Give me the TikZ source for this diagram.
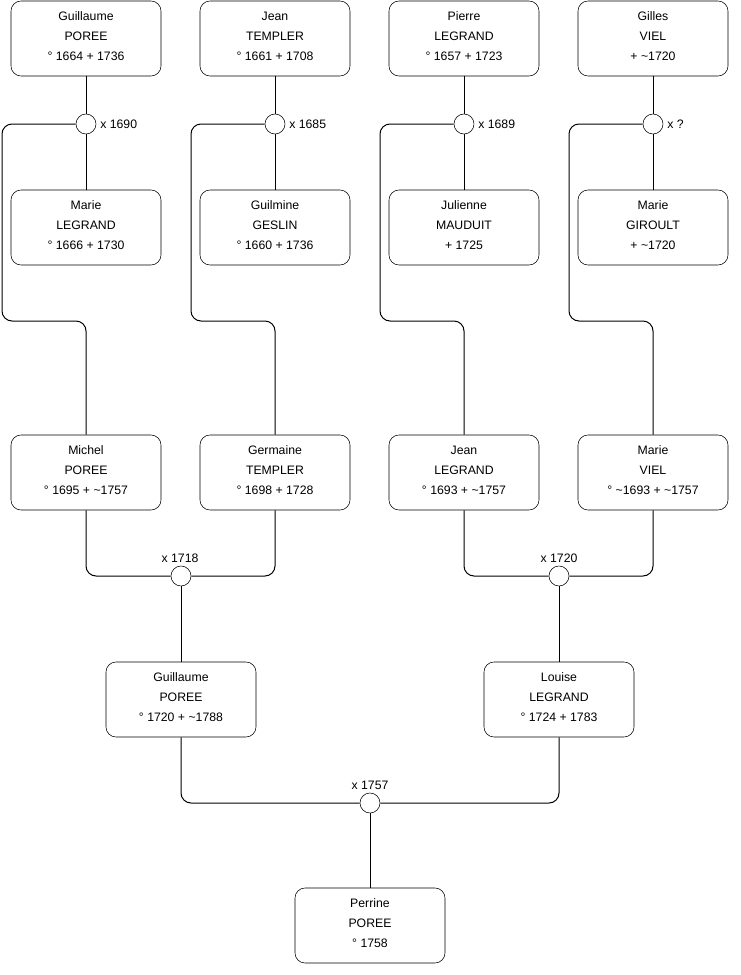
\documentclass[tikz,border=0pt]{standalone}
\usepackage{fontspec}
\setmainfont{Liberation Sans}
\newcommand{\tld}{\textasciitilde}
\begin{document}
\begin{tikzpicture}[x=0.75pt,y=-0.75pt,
  person/.style={draw, rounded corners=7.5pt, minimum width=112.5pt, minimum height=56.25pt, align=center, font=\fontsize{9.2}{15}\selectfont, inner sep=0pt, text depth=3pt},
  union/.style={draw, circle, minimum size=15pt, inner sep=0pt, fill=white},
  lbl/.style={font=\fontsize{9.2}{11}\selectfont, inner sep=0pt},
  link/.style={draw, line width=0.75pt, rounded corners=7.5pt}]
\useasboundingbox (0,0) rectangle (740,975);
% top row
\node[person] (g1) at (86,38.5) {Guillaume\\POREE\\° 1664 + 1736};
\node[person] (g2) at (275,38.5) {Jean\\TEMPLER\\° 1661 + 1708};
\node[person] (g3) at (464,38.5) {Pierre\\LEGRAND\\° 1657 + 1723};
\node[person] (g4) at (653,38.5) {Gilles\\VIEL\\+ \tld1720};
% second row
\node[person] (m1) at (86,227.5) {Marie\\LEGRAND\\° 1666 + 1730};
\node[person] (m2) at (275,227.5) {Guilmine\\GESLIN\\° 1660 + 1736};
\node[person] (m3) at (464,227.5) {Julienne\\MAUDUIT\\+ 1725};
\node[person] (m4) at (653,227.5) {Marie\\GIROULT\\+ \tld1720};
% unions
\node[union] (u1) at (86,124) {};
\node[union] (u2) at (275,124) {};
\node[union] (u3) at (464,124) {};
\node[union] (u4) at (653,124) {};
\node[lbl, anchor=west] at (100,124) {x 1690};
\node[lbl, anchor=west] at (289,124) {x 1685};
\node[lbl, anchor=west] at (478,124) {x 1689};
\node[lbl, anchor=west] at (667,124) {x ?};
% third row
\node[person] (c1) at (86,472.5) {Michel\\POREE\\° 1695 + \tld1757};
\node[person] (c2) at (275,472.5) {Germaine\\TEMPLER\\° 1698 + 1728};
\node[person] (c3) at (464,472.5) {Jean\\LEGRAND\\° 1693 + \tld1757};
\node[person] (c4) at (653,472.5) {Marie\\VIEL\\° \tld1693 + \tld1757};
% unions 2
\node[union] (v1) at (181,576) {};
\node[union] (v2) at (559,576) {};
\node[lbl] at (180,558) {x 1718};
\node[lbl] at (559,558) {x 1720};
% fourth row
\node[person] (d1) at (181,699.5) {Guillaume\\POREE\\° 1720 + \tld1788};
\node[person] (d2) at (559,699.5) {Louise\\LEGRAND\\° 1724 + 1783};
% final union
\node[union] (w) at (370,803) {};
\node[lbl] at (370,785) {x 1757};
\node[person] (p) at (370,925.5) {Perrine\\POREE\\° 1758};
% connectors top
\foreach \i in {1,2,3,4}{
  \draw[line width=0.75pt] (g\i.south) -- (u\i.north);
  \draw[line width=0.75pt] (u\i.south) -- (m\i.north);
}
\path[link] (u1.west) -- (2,124) -- (2,321) -- (86,321) -- (c1.north);
\path[link] (u2.west) -- (191,124) -- (191,321) -- (275,321) -- (c2.north);
\path[link] (u3.west) -- (380,124) -- (380,321) -- (464,321) -- (c3.north);
\path[link] (u4.west) -- (569,124) -- (569,321) -- (653,321) -- (c4.north);
% second generation
\path[link] (c1.south) -- (86,576) -- (v1.west);
\path[link] (c2.south) -- (275,576) -- (v1.east);
\path[link] (c3.south) -- (464,576) -- (v2.west);
\path[link] (c4.south) -- (653,576) -- (v2.east);
\draw[line width=0.75pt] (v1.south) -- (d1.north);
\draw[line width=0.75pt] (v2.south) -- (d2.north);
\path[link] (d1.south) -- (181,803) -- (w.west);
\path[link] (d2.south) -- (559,803) -- (w.east);
\draw[line width=0.75pt] (w.south) -- (p.north);
\end{tikzpicture}
\end{document}
